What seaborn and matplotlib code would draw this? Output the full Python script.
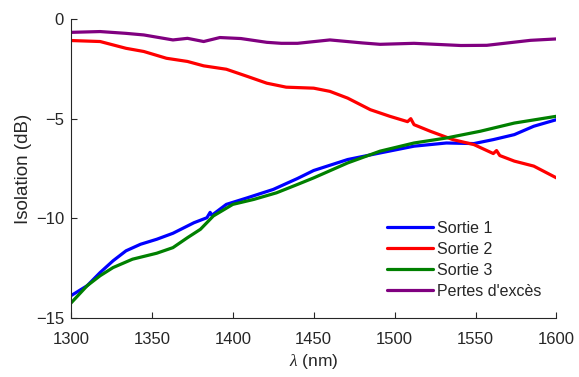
import matplotlib.pyplot as plt
import pandas as pd
import seaborn as sns

# wavelengths (nm) and isolation values (dB)
lam_s1 = [1300, 1310, 1318, 1326, 1334, 1343, 1353, 1363, 1376, 1384, 1386, 1387,
          1396, 1409, 1425, 1440, 1450, 1471, 1491, 1512, 1532, 1549, 1561, 1574, 1586, 1600]
sortie1 = [-13.88, -13.38, -12.72, -12.13, -11.63, -11.3, -11.05, -10.75, -10.22, -9.97, -9.7, -9.85,
           -9.3, -8.97, -8.55, -8.0, -7.6, -7.05, -6.72, -6.38, -6.22, -6.25, -6.05, -5.8, -5.38, -5.05]

lam_s2 = [1300, 1318, 1334, 1345, 1359, 1372, 1382, 1396, 1409, 1421, 1433, 1450, 1460,
          1471, 1485, 1497, 1508, 1510, 1512, 1522, 1536, 1549, 1561, 1563, 1565, 1574, 1586, 1600]
sortie2 = [-1.08, -1.13, -1.47, -1.63, -1.97, -2.13, -2.35, -2.52, -2.88, -3.22, -3.42, -3.47, -3.63,
           -3.97, -4.55, -4.88, -5.15, -5.0, -5.3, -5.63, -6.05, -6.3, -6.75, -6.6, -6.85, -7.13, -7.38, -7.97]

lam_s3 = [1300, 1310, 1318, 1326, 1338, 1353, 1363, 1372, 1380, 1388, 1400, 1413, 1427,
          1440, 1450, 1471, 1491, 1512, 1532, 1553, 1574, 1600]
sortie3 = [-14.25, -13.38, -12.88, -12.47, -12.05, -11.75, -11.47, -10.97, -10.55, -9.88, -9.3,
           -9.05, -8.72, -8.3, -7.97, -7.22, -6.63, -6.22, -5.97, -5.63, -5.22, -4.88]

lam_pe = [1300, 1318, 1334, 1345, 1363, 1372, 1382, 1392, 1405, 1421, 1430, 1440, 1460,
          1480, 1491, 1512, 1541, 1557, 1584, 1600]
pertes = [-0.67, -0.63, -0.72, -0.8, -1.05, -0.97, -1.13, -0.93, -0.98, -1.17, -1.22, -1.22, -1.05,
          -1.2, -1.27, -1.22, -1.33, -1.32, -1.07, -1.0]

series = [
    ('Sortie 1', lam_s1, sortie1, '#0000ff'),
    ('Sortie 2', lam_s2, sortie2, '#ff0000'),
    ('Sortie 3', lam_s3, sortie3, '#008000'),
    ("Pertes d'excès", lam_pe, pertes, '#800080'),
]

sns.set_style('ticks')
plt.rcParams['font.family'] = ['Liberation Sans', 'DejaVu Sans']
plt.rcParams['mathtext.fontset'] = 'custom'
plt.rcParams['mathtext.it'] = 'Liberation Serif:italic'

axis_col = '#262626'
fig = plt.figure(figsize=(5.79, 3.77), dpi=100)
ax = fig.add_axes([0.1226, 0.1565, 0.8384, 0.7931])

for name, x, y, col in series:
    df = pd.DataFrame({'lam': x, 'val': y})
    sns.lineplot(data=df, x='lam', y='val', color=col, linewidth=2.3, label=name, ax=ax)

ax.set_xlim(1300, 1600)
ax.set_ylim(-15, 0)
ax.set_xticks([1300, 1350, 1400, 1450, 1500, 1550, 1600])
ax.set_yticks([-15, -10, -5, 0])
ax.tick_params(direction='in', length=4, width=0.8, colors=axis_col, labelsize=12)
ax.tick_params(axis='x', pad=10)
ax.tick_params(axis='y', pad=5)
for s in ['top', 'right']:
    ax.spines[s].set_visible(False)
for s in ['left', 'bottom']:
    ax.spines[s].set_color(axis_col)
    ax.spines[s].set_linewidth(0.8)

ax.set_xlabel(r'$\lambda$ (nm)', fontsize=12.5, color=axis_col, labelpad=4)
ax.set_ylabel('Isolation (dB)', fontsize=13.5, color=axis_col, labelpad=3)

ax.legend(loc='upper left', bbox_to_anchor=(0.652, 0.325), frameon=False, fontsize=11.5,
          handlelength=2.85, handletextpad=0.25, labelspacing=0.38, borderaxespad=0,
          borderpad=0)

fig.savefig('out.png', dpi=100)
